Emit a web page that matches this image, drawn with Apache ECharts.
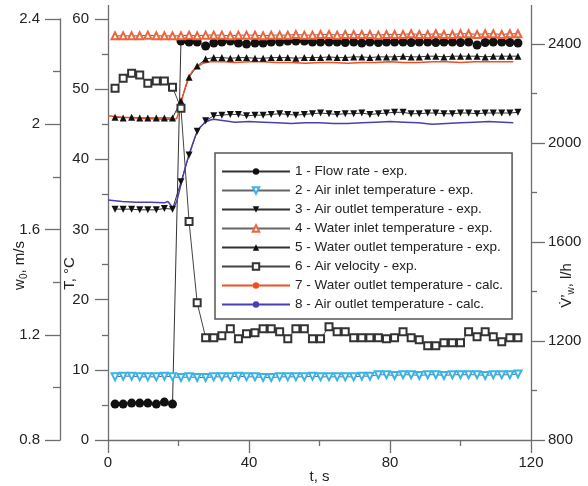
<!DOCTYPE html>
<html>
<head>
<meta charset="utf-8">
<script src="https://cdn.jsdelivr.net/npm/echarts@6/dist/echarts.min.js"></script>
<style>
  html, body { margin: 0; padding: 0; background: #fff; }
  #chart { width: 588px; height: 486px; }
</style>
</head>
<body>
<div id="chart"></div>
<script>
// experimental sampling times, s
const expTime = [2, 4.3, 6.7, 9, 11.3, 13.7, 16, 18.3, 20.7, 23,
  25.3, 27.7, 30, 32.3, 34.7, 37, 39.3, 41.7, 44, 46.3,
  48.7, 51, 53.3, 55.7, 58, 60.3, 62.7, 65, 67.3, 69.7,
  72, 74.3, 76.7, 79, 81.3, 83.7, 86, 88.3, 90.7, 93,
  95.3, 97.7, 100, 102.3, 104.7, 107, 109.3, 111.7, 114, 116.3]

// 1 - flow rate, l/h
const flowRate = [945, 945, 949, 949, 949, 945, 953, 945, 2411, 2407,
  2407, 2391, 2403, 2407, 2411, 2403, 2399, 2403, 2403, 2407,
  2407, 2411, 2411, 2411, 2407, 2407, 2407, 2407, 2405, 2407,
  2403, 2407, 2405, 2407, 2407, 2407, 2405, 2407, 2407, 2405,
  2407, 2407, 2405, 2407, 2395, 2405, 2407, 2407, 2405, 2403]

// 2 - air inlet temperature, °C
const airInlet = [9.0, 9.1, 9.1, 9.0, 9.0, 9.0, 9.1, 9.0, 8.9, 9.0,
  8.9, 8.9, 9.0, 9.0, 9.0, 9.1, 9.0, 9.0, 8.9, 8.9,
  9.0, 9.0, 9.0, 9.0, 9.1, 9.0, 9.0, 9.0, 9.0, 9.0,
  9.1, 9.1, 9.3, 9.3, 9.2, 9.3, 9.3, 9.2, 9.3, 9.3,
  9.2, 9.3, 9.3, 9.3, 9.3, 9.2, 9.3, 9.3, 9.3, 9.4]

// 3 - air outlet temperature (exp), °C
const airOutletExp = [32.9, 32.9, 32.9, 32.8, 32.8, 32.8, 33.0, 32.9, 36.8, 40.6,
  44.0, 45.5, 46.2, 46.3, 46.4, 46.4, 46.2, 46.3, 46.3, 46.4,
  46.5, 46.4, 46.3, 46.4, 46.5, 46.6, 46.5, 46.4, 46.5, 46.5,
  46.6, 46.4, 46.5, 46.6, 46.7, 46.7, 46.5, 46.5, 46.6, 46.6,
  46.5, 46.5, 46.6, 46.6, 46.5, 46.6, 46.6, 46.6, 46.6, 46.7]

// 4 - water inlet temperature, °C
const waterInlet = [57.6, 57.6, 57.6, 57.6, 57.7, 57.6, 57.6, 57.6, 57.6, 57.7,
  57.6, 57.7, 57.7, 57.7, 57.6, 57.7, 57.7, 57.7, 57.6, 57.7,
  57.7, 57.7, 57.8, 57.7, 57.7, 57.8, 57.8, 57.7, 57.8, 57.8,
  57.8, 57.8, 57.7, 57.8, 57.8, 57.8, 57.9, 57.8, 57.8, 57.9,
  57.8, 57.8, 57.9, 57.9, 57.8, 57.9, 57.9, 57.8, 57.9, 57.9]

// 5 - water outlet temperature (exp), °C
const waterOutletExp = [46.0, 45.9, 46.0, 45.9, 45.9, 45.9, 45.9, 45.9, 48.3, 51.7,
  53.3, 54.3, 54.5, 54.5, 54.4, 54.5, 54.5, 54.4, 54.4, 54.5,
  54.5, 54.5, 54.4, 54.5, 54.5, 54.5, 54.6, 54.5, 54.5, 54.6,
  54.6, 54.5, 54.6, 54.6, 54.6, 54.7, 54.6, 54.6, 54.7, 54.7,
  54.6, 54.7, 54.7, 54.7, 54.7, 54.6, 54.7, 54.7, 54.7, 54.7]

// 6 - air velocity, m/s
const airVelocity = [2.137, 2.175, 2.194, 2.187, 2.156, 2.164, 2.164, 2.141, 2.061, 1.630,
  1.322, 1.189, 1.189, 1.196, 1.223, 1.185, 1.204, 1.208, 1.223, 1.223,
  1.211, 1.185, 1.223, 1.223, 1.185, 1.185, 1.230, 1.211, 1.211, 1.189,
  1.189, 1.189, 1.189, 1.185, 1.189, 1.211, 1.189, 1.181, 1.158, 1.158,
  1.170, 1.170, 1.170, 1.211, 1.192, 1.211, 1.192, 1.173, 1.189, 1.189]

// calculation times, s
const calcTime = [0, 4, 8, 12, 16, 17, 18.5, 19.5, 20, 21,
  22, 23, 24, 25, 26, 27, 28, 29, 30, 33,
  36, 40, 44, 48, 52, 56, 60, 64, 68, 72,
  76, 80, 84, 88, 92, 96, 100, 104, 108, 112, 115]

// 7 - water outlet temperature (calc), °C
const waterOutletCalc = [46.2, 46.0, 45.9, 45.8, 45.7, 45.7, 45.7, 45.8, 46.6, 48.6,
  50.4, 51.8, 52.6, 53.1, 53.4, 53.7, 53.8, 53.9, 53.9, 53.9,
  53.8, 53.9, 53.9, 53.8, 53.8, 53.7, 53.8, 53.8, 53.7, 53.8,
  53.8, 53.9, 53.8, 53.8, 53.9, 53.9, 53.8, 53.9, 53.9, 53.9, 53.9]

// 8 - air outlet temperature (calc), °C
const airOutletCalc = [34.2, 34.0, 33.9, 33.9, 33.8, 34.0, 33.0, 34.0, 35.0, 37.0,
  39.0, 40.7, 42.2, 43.6, 44.5, 45.0, 45.4, 45.6, 45.7, 45.5,
  45.3, 45.4, 45.3, 45.2, 45.1, 45.2, 45.2, 45.1, 45.1, 45.2,
  45.3, 45.4, 45.3, 45.2, 45.0, 45.1, 45.2, 45.3, 45.4, 45.3, 45.2]

const flowTicks = [800, 1200, 1600, 2000, 2400]
const flowMinorTicks = [1000, 1400, 1800, 2200]

const FONT = 'Liberation Sans, Arial, sans-serif'
const AXIS = '#6e6e6e'

function pairs(xs, ys) {
  return xs.map((x, i) => [x, ys[i]])
}

let chart = echarts.init(document.getElementById('chart'))

let axisCommon = {
  type: 'value',
  splitLine: {show: false},
  nameMoveOverlap: false,
  axisLine: {show: true, lineStyle: {color: AXIS, width: 1.3}},
  axisTick: {show: true, length: 13, lineStyle: {color: AXIS, width: 1.3}},
  minorTick: {show: true, splitNumber: 2, length: 6, lineStyle: {color: AXIS, width: 1.3}},
  axisLabel: {fontSize: 15, color: '#222', fontFamily: FONT, formatter: v => String(v)},
  nameTextStyle: {fontSize: 15, color: '#222', fontFamily: FONT}
}

let option = {
  animation: false,
  backgroundColor: '#fff',
  grid: {left: 108, right: 57, top: 19, bottom: 46, outerBoundsMode: 'none', containLabel: false},
  xAxis: Object.assign({}, axisCommon, {
    min: 0, max: 120, interval: 40,
    axisLabel: Object.assign({}, axisCommon.axisLabel, {margin: 15}),
    name: 't, s', nameLocation: 'middle', nameGap: 29
  }),
  yAxis: [
    Object.assign({}, axisCommon, {
      position: 'left', min: 0, max: 60, interval: 10,
      axisLabel: Object.assign({}, axisCommon.axisLabel, {margin: 19}),
      name: 'T, °C', nameLocation: 'middle', nameRotate: 90, nameGap: 31,
      nameTextStyle: Object.assign({}, axisCommon.nameTextStyle, {padding: [0, 88, 0, 0]})
    }),
    Object.assign({}, axisCommon, {
      position: 'left', offset: 48, min: 0.8, max: 2.4, interval: 0.4,
      axisTick: Object.assign({}, axisCommon.axisTick, {length: 15}),
      minorTick: Object.assign({}, axisCommon.minorTick, {length: 7}),
      axisLabel: Object.assign({}, axisCommon.axisLabel, {margin: 20}),
      name: 'w{s|0}, m/s', nameLocation: 'middle', nameRotate: 90, nameGap: 31,
      nameTextStyle: Object.assign({}, axisCommon.nameTextStyle, {
        padding: [0, 72, 0, 0],
        rich: {s: {fontSize: 10, fontFamily: FONT, color: '#222', padding: [8, 0, 0, 0]}}
      })
    }),
    Object.assign({}, axisCommon, {
      position: 'right', min: 800, max: 2500,
      axisTick: Object.assign({}, axisCommon.axisTick, {length: 14, customValues: flowTicks}),
      minorTick: {show: false},
      axisLabel: Object.assign({}, axisCommon.axisLabel, {margin: 17, customValues: flowTicks}),
      name: 'V\u0307\u2019{s|w}, l/h', nameLocation: 'middle', nameRotate: 90, nameGap: 27,
      nameTextStyle: Object.assign({}, axisCommon.nameTextStyle, {
        padding: [0, 112, 0, 0],
        rich: {s: {fontSize: 10, fontFamily: FONT, color: '#222', padding: [8, 0, 0, 0]}}
      })
    }),
    {
      type: 'value', position: 'right', min: 800, max: 2500,
      splitLine: {show: false},
      axisLine: {show: false},
      axisLabel: {show: false},
      axisTick: {show: true, length: 6, customValues: flowMinorTicks, lineStyle: {color: AXIS, width: 1.3}}
    }
  ],
  legend: {
    left: 215, top: 153,
    orient: 'vertical',
    itemWidth: 68, itemHeight: 8, itemGap: 0,
    padding: [9, 9, 5, 6],
    backgroundColor: '#fff',
    borderColor: '#555', borderWidth: 1.5,
    textStyle: {fontSize: 13.5, color: '#222', fontFamily: FONT, lineHeight: 19}
  },
  graphic: [
    {type: 'line', shape: {x1: 108.5, y1: 5, x2: 108.5, y2: 19}, style: {stroke: AXIS, lineWidth: 1.3}},
    {type: 'line', shape: {x1: 531.5, y1: 5, x2: 531.5, y2: 19}, style: {stroke: AXIS, lineWidth: 1.3}}
  ],
  series: [
    {
      name: '1 - Flow rate - exp.', type: 'line', yAxisIndex: 2,
      data: pairs(expTime, flowRate),
      symbol: 'circle', symbolSize: 9,
      itemStyle: {color: '#111'}, lineStyle: {color: '#333', width: 1}
    },
    {
      name: '2 - Air inlet temperature - exp.', type: 'line', yAxisIndex: 0,
      data: pairs(expTime, airInlet),
      symbol: 'emptyTriangle', symbolRotate: 180, symbolSize: 7,
      itemStyle: {color: '#3ab4e6', borderWidth: 1.2}, lineStyle: {color: '#666', width: 1}
    },
    {
      name: '3 - Air outlet temperature - exp.', type: 'line', yAxisIndex: 0,
      data: pairs(expTime, airOutletExp),
      symbol: 'triangle', symbolRotate: 180, symbolSize: 7,
      itemStyle: {color: '#111'}, lineStyle: {color: '#333', width: 1}
    },
    {
      name: '4 - Water inlet temperature - exp.', type: 'line', yAxisIndex: 0,
      data: pairs(expTime, waterInlet),
      symbol: 'emptyTriangle', symbolSize: 7,
      itemStyle: {color: '#f0643c', borderWidth: 1.2}, lineStyle: {color: '#666', width: 1}
    },
    {
      name: '5 - Water outlet temperature - exp.', type: 'line', yAxisIndex: 0,
      data: pairs(expTime, waterOutletExp),
      symbol: 'triangle', symbolSize: 7,
      itemStyle: {color: '#111'}, lineStyle: {color: '#333', width: 1}
    },
    {
      name: '6 - Air velocity - exp.', type: 'line', yAxisIndex: 1,
      data: pairs(expTime, airVelocity),
      symbol: 'emptyRect', symbolSize: 7,
      itemStyle: {color: '#333', borderWidth: 1.1}, lineStyle: {color: '#444', width: 1}
    },
    {
      name: '7 - Water outlet temperature - calc.', type: 'line', yAxisIndex: 0,
      data: pairs(calcTime, waterOutletCalc),
      symbol: 'none', lineStyle: {color: '#f04e23', width: 1.5}, itemStyle: {color: '#f04e23'}
    },
    {
      name: '8 - Air outlet temperature - calc.', type: 'line', yAxisIndex: 0,
      data: pairs(calcTime, airOutletCalc),
      symbol: 'none', lineStyle: {color: '#4a3fb0', width: 1.5}, itemStyle: {color: '#4a3fb0'}
    }
  ]
}

chart.setOption(option)
</script>
</body>
</html>
